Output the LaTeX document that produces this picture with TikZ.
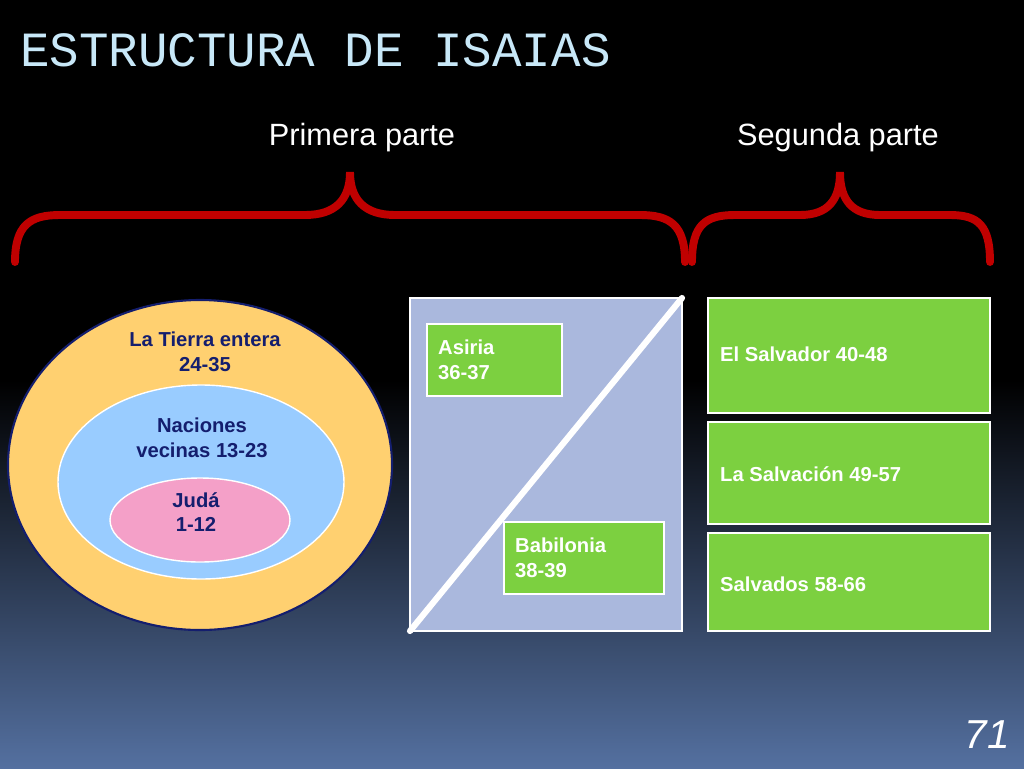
\documentclass[tikz,border=0pt]{standalone}
\usepackage{fontspec}
\setmainfont{Liberation Sans}
\newfontfamily\titlefont{Liberation Mono}
\definecolor{bracered}{RGB}{192,0,0}
\definecolor{titleblue}{RGB}{200,232,248}
\definecolor{navytext}{RGB}{20,30,110}
\definecolor{earth}{RGB}{255,208,112}
\definecolor{nations}{RGB}{153,204,255}
\definecolor{juda}{RGB}{244,160,200}
\definecolor{panel}{RGB}{170,184,221}
\definecolor{leaf}{RGB}{124,208,64}
\definecolor{bottomblue}{RGB}{84,112,160}
\tikzset{
  brace/.style={draw=bracered, line width=4.5pt, line cap=round},
  ringtext/.style={text=navytext, font=\fontsize{11.5}{14}\selectfont\bfseries, align=center},
  greenbox/.style={fill=leaf, draw=white, line width=0.6pt},
  boxtext/.style={text=white, font=\fontsize{11.5}{14}\selectfont\bfseries, align=left, anchor=west},
  parttext/.style={text=white, font=\fontsize{17.5}{20}\selectfont}
}
\begin{document}
\begin{tikzpicture}[x=0.02cm, y=-0.02cm]
\fill[black] (0,0) rectangle (1024,768);
\shade[top color=black, bottom color=bottomblue] (0,380) rectangle (1024,768);
\useasboundingbox (0,0) rectangle (1024,768);

\node[anchor=west, text=titleblue, font=\titlefont\fontsize{28}{30}\selectfont] (title) at (14,50) {ESTRUCTURA DE ISAIAS};
\node[parttext] (primera) at (362,138) {Primera parte};
\node[parttext] (segunda) at (838,138) {Segunda parte};

% braces
\draw[brace] (15,262) .. controls (15,225) and (30,215) .. (60,215) -- (305,215)
  .. controls (335,215) and (350,200) .. (350,172) .. controls (350,200) and (365,215) .. (395,215)
  -- (640,215) .. controls (670,215) and (685,225) .. (685,262);
\draw[brace] (692,262) .. controls (692,225) and (705,215) .. (735,215) -- (800,215)
  .. controls (828,215) and (840,200) .. (840,172) .. controls (840,200) and (852,215) .. (880,215)
  -- (950,215) .. controls (978,215) and (990,225) .. (990,262);

% rings
\draw[fill=earth, draw=navytext, line width=1.2pt] (200,465) ellipse [x radius=192, y radius=165];
\draw[fill=nations, draw=white, line width=0.8pt] (201,482) ellipse [x radius=143, y radius=97];
\draw[fill=juda, draw=white, line width=0.8pt] (200,520) ellipse [x radius=90, y radius=42];
\node[ringtext] (tierra) at (205,352) {La Tierra entera\\24-35};
\node[ringtext] (naciones) at (202,438) {Naciones\\vecinas 13-23};
\node[ringtext] (judaText) at (196,512) {Judá\\1-12};

% middle panel
\draw[fill=panel, draw=white, line width=0.6pt] (410,298) rectangle (682,631);
\draw[white, line width=3.5pt, line cap=round] (410,631) -- (682,298);
\draw[greenbox] (427,324) rectangle (562,396);
\node[boxtext] (asiria) at (432,360) {Asiria\\36-37};
\draw[greenbox] (504,522) rectangle (664,594);
\node[boxtext] (babilonia) at (509,558) {Babilonia\\38-39};

% right column
\draw[greenbox] (708,298) rectangle (990,413);
\draw[greenbox] (708,422) rectangle (990,524);
\draw[greenbox] (708,533) rectangle (990,631);
\node[boxtext] (salvador) at (714,354) {El Salvador 40-48};
\node[boxtext] (salvacion) at (714,474) {La Salvación 49-57};
\node[boxtext] (salvados) at (714,584) {Salvados 58-66};

\node[anchor=east, text=white, font=\fontsize{23}{25}\selectfont\itshape] (page) at (1016,735) {71};
\end{tikzpicture}
\end{document}
